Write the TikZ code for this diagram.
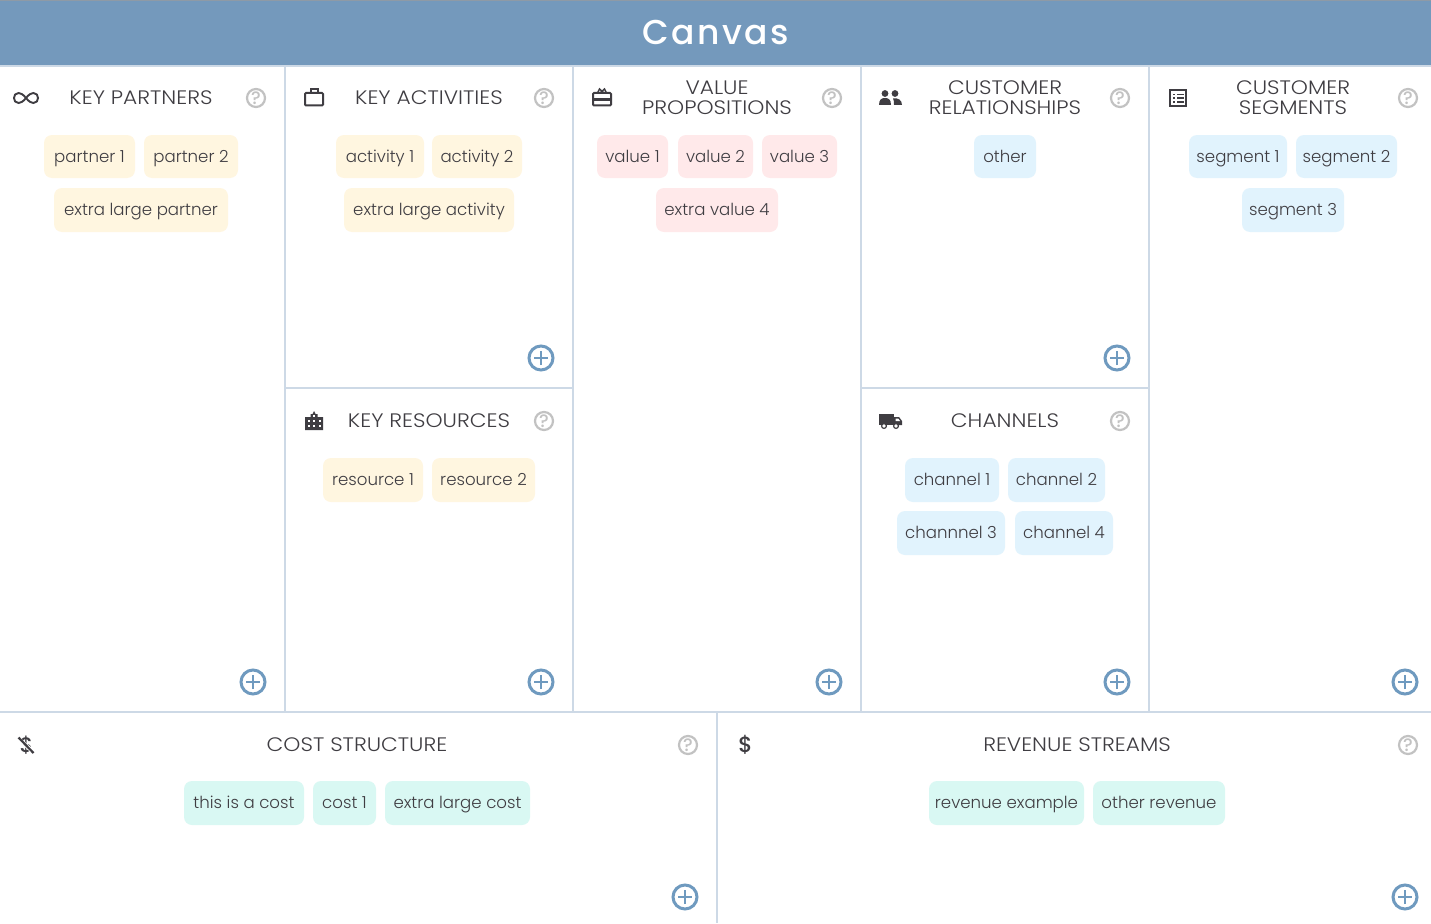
\documentclass[tikz,border=0pt]{standalone}
\usepackage{fontspec}
\setmainfont{Poppins}
\newfontfamily\tagfont[UprightFont=* Light]{Poppins}
\newfontfamily\headfont[UprightFont=* Light,FakeStretch=1.115]{Poppins}
\newfontfamily\titlefont[UprightFont=* Medium,LetterSpace=7]{Poppins}
\newfontfamily\iconfont[UprightFont=* Medium]{Poppins}
\definecolor{hdr}{HTML}{7499BC}
\definecolor{hdrtop}{HTML}{8E9AA6}
\definecolor{ln}{HTML}{CDD9E6}
\definecolor{ink}{HTML}{3F3D42}
\definecolor{qm}{HTML}{C2C2C2}
\definecolor{pl}{HTML}{6F9ABF}
\definecolor{ty}{HTML}{FFF6E0}
\definecolor{tr}{HTML}{FFE9EA}
\definecolor{tb}{HTML}{E1F3FD}
\definecolor{tg}{HTML}{D9F8F3}
\tikzset{
  divider/.style={draw=ln,line width=2pt},
  cardtag/.style={rounded corners=8pt,inner sep=0pt,text=ink,text height=11pt,text depth=0pt,font=\tagfont\fontsize{16.6}{20}\selectfont,anchor=center},
  heading/.style={text=ink,align=center,inner sep=0pt,font=\headfont\fontsize{19.5}{20}\selectfont},
  helpring/.style={circle,draw=qm,line width=2.2pt,minimum size=18pt,inner sep=0pt,text=qm,font=\iconfont\fontsize{18}{18}\selectfont},
  addring/.style={circle,draw=pl,line width=3pt,minimum size=24pt,inner sep=0pt},
  addbar/.style={draw=pl,line width=2.8pt},
  iconline/.style={draw=ink,line width=2pt}
}
% name, x1, x2, y1, y2, colour, text
\newcommand\cvtag[7]{%
  \node[cardtag,fill=#6,minimum width=#3pt-#2pt,minimum height=#5pt-#4pt] (#1) at ({(#2+#3)/2},{(#4+#5)/2}) {#7};}
\newcommand\cvhelp[3]{\node[helpring] (#1) at (#2,#3) {?};}
\newcommand\cvadd[3]{%
  \node[addring] (#1) at (#2,#3) {};
  \draw[addbar] ([xshift=-7pt]#1.center) -- ([xshift=7pt]#1.center);
  \draw[addbar] ([yshift=-7pt]#1.center) -- ([yshift=7pt]#1.center);}
\begin{document}
\begin{tikzpicture}[x=1pt,y=-1pt]
\useasboundingbox (0,0) rectangle (1431,923);
\fill[white] (0,0) rectangle (1431,923);
% title band
\fill[hdr] (0,0) rectangle (1431,65);
\fill[hdrtop] (0,0) rectangle (1431,1);
\node[text=white,inner sep=0pt,font=\titlefont\fontsize{34.5}{34.5}\selectfont] (title) at (716,33) {Canvas};
% dividers
\draw[divider] (0,66) -- (1431,66);
\draw[divider] (0,712) -- (1431,712);
\foreach \x in {285,573,861,1149} \draw[divider] (\x,66) -- (\x,712);
\draw[divider] (285,388) -- (573,388);
\draw[divider] (861,388) -- (1149,388);
\draw[divider] (717,712) -- (717,923);
% headings
\node[heading] (h1) at (141,97.5) {KEY PARTNERS};
\node[heading] (h2) at (429,97.5) {KEY ACTIVITIES};
\node[heading] (h3) at (717,97.5) {VALUE\\PROPOSITIONS};
\node[heading] (h4) at (1005,97.5) {CUSTOMER\\RELATIONSHIPS};
\node[heading] (h5) at (1293,97.5) {CUSTOMER\\SEGMENTS};
\node[heading] (h6) at (429,420.5) {KEY RESOURCES};
\node[heading] (h7) at (1005,420.5) {CHANNELS};
\node[heading] (h8) at (357,744.5) {COST STRUCTURE};
\node[heading] (h9) at (1077,744.5) {REVENUE STREAMS};
% help marks
\cvhelp{q1}{256}{98}\cvhelp{q2}{544}{98}\cvhelp{q3}{832}{98}\cvhelp{q4}{1120}{98}\cvhelp{q5}{1408}{98}
\cvhelp{q6}{544}{421}\cvhelp{q7}{1120}{421}\cvhelp{q8}{688}{745}\cvhelp{q9}{1408}{745}
% add buttons
\cvadd{p1}{253}{682}\cvadd{p2}{541}{358}\cvadd{p3}{541}{682}\cvadd{p4}{829}{682}\cvadd{p5}{1117}{358}
\cvadd{p6}{1117}{682}\cvadd{p7}{1405}{682}\cvadd{p8}{685}{897}\cvadd{p9}{1405}{897}
% tags
\cvtag{t1}{44}{135}{135}{178}{ty}{partner 1}
\cvtag{t2}{144}{238}{135}{178}{ty}{partner 2}
\cvtag{t3}{54}{228}{188}{232}{ty}{extra large partner}
\cvtag{t4}{336}{424}{135}{178}{ty}{activity 1}
\cvtag{t5}{432}{522}{135}{178}{ty}{activity 2}
\cvtag{t6}{344}{514}{188}{232}{ty}{extra large activity}
\cvtag{t7}{323}{423}{458}{502}{ty}{resource 1}
\cvtag{t8}{432}{535}{458}{502}{ty}{resource 2}
\cvtag{t9}{597}{668}{135}{178}{tr}{value 1}
\cvtag{t10}{678}{753}{135}{178}{tr}{value 2}
\cvtag{t11}{762}{837}{135}{178}{tr}{value 3}
\cvtag{t12}{656}{778}{188}{232}{tr}{extra value 4}
\cvtag{t13}{974}{1036}{135}{178}{tb}{other}
\cvtag{t14}{905}{999}{458}{502}{tb}{channel 1}
\cvtag{t15}{1008}{1105}{458}{502}{tb}{channel 2}
\cvtag{t16}{897}{1005}{511}{555}{tb}{channnel 3}
\cvtag{t17}{1015}{1113}{511}{555}{tb}{channel 4}
\cvtag{t18}{1189}{1287}{135}{178}{tb}{segment 1}
\cvtag{t19}{1296}{1397}{135}{178}{tb}{segment 2}
\cvtag{t20}{1242}{1344}{188}{232}{tb}{segment 3}
\cvtag{t21}{184}{304}{781}{825}{tg}{this is a cost}
\cvtag{t22}{313}{376}{781}{825}{tg}{cost 1}
\cvtag{t23}{385}{530}{781}{825}{tg}{extra large cost}
\cvtag{t24}{929}{1084}{781}{825}{tg}{revenue example}
\cvtag{t25}{1093}{1225}{781}{825}{tg}{other revenue}
% infinity
\draw[iconline,line width=1.9pt] (26,98) .. controls (23,94) and (20,93) .. (18.5,93) .. controls (12.5,93) and (12.5,103) .. (18.5,103) .. controls (20,103) and (23,102) .. (26,98)
  .. controls (29,94) and (32,93) .. (33.5,93) .. controls (39.5,93) and (39.5,103) .. (33.5,103) .. controls (32,103) and (29,102) .. (26,98);
% briefcase
\draw[iconline,rounded corners=1pt] (305,93) rectangle (323,105.5);
\draw[iconline] (311,93) -- (311,89) -- (318,89) -- (318,93);
% gift
\draw[iconline,rounded corners=1pt] (593,93) rectangle (611,105.5);
\fill[ink] (593,98) rectangle (611,101);
\draw[iconline,line width=1.5pt] (597.5,93) -- (599.5,89) -- (604,93);
\draw[iconline,line width=1.5pt] (606.5,93) -- (604.5,89) -- (600,93);
% people
\fill[ink] (885,93.5) circle (3.4);
\fill[ink] (895,93.5) circle (3.4);
\fill[ink] (879,105) .. controls (879,99) and (882,98) .. (885,98) .. controls (888,98) and (891,99) .. (891,105) -- cycle;
\fill[ink] (893,98.5) .. controls (898,97.5) and (902,100) .. (902,105) -- (894,105) .. controls (894,102) and (894,100) .. (893,98.5) -- cycle;
% list
\draw[iconline] (1170,90.5) rectangle (1186,106);
\foreach \yy in {94.5,98.2,102}{
  \fill[ink] (1173,\yy-0.8) rectangle (1175,\yy+0.8);
  \fill[ink] (1177,\yy-0.8) rectangle (1184,\yy+0.8);
}
% building
\fill[ink] (305,417) -- (310.5,417) -- (310.5,414) -- (312.5,414) -- (314,411) -- (315.5,414) -- (317.5,414) -- (317.5,417) -- (323,417) -- (323,430) -- (305,430) -- cycle;
\foreach \xx in {307.5,313,319}\foreach \yy in {419.5,425}
  \fill[white] (\xx,\yy) rectangle (\xx+2,\yy+2.4);
\fill[white] (313,415) rectangle (315,417);
% truck
\fill[ink] (879,414) rectangle (894,425);
\fill[ink] (894,417) -- (899,417) -- (902,421) -- (902,425) -- (894,425) -- cycle;
\fill[white] (895.5,418.5) -- (898.3,418.5) -- (900,421) -- (895.5,421) -- cycle;
\filldraw[fill=white,draw=ink,line width=1.2pt] (884,426) circle (2.4);
\filldraw[fill=white,draw=ink,line width=1.2pt] (896,426) circle (2.4);
% dollar signs
\node[text=ink,inner sep=0pt,font=\iconfont\fontsize{21}{21}\selectfont] (nodollar) at (26.5,745.5) {\$};
\draw[draw=white,line width=4pt] (18,738.5) -- (34,752.5);
\draw[iconline,line width=2.2pt] (18.5,737.5) -- (33.5,753);
\node[text=ink,inner sep=0pt,font=\iconfont\fontsize{22}{22}\selectfont] (dollar) at (745.5,745) {\$};
\end{tikzpicture}
\end{document}
